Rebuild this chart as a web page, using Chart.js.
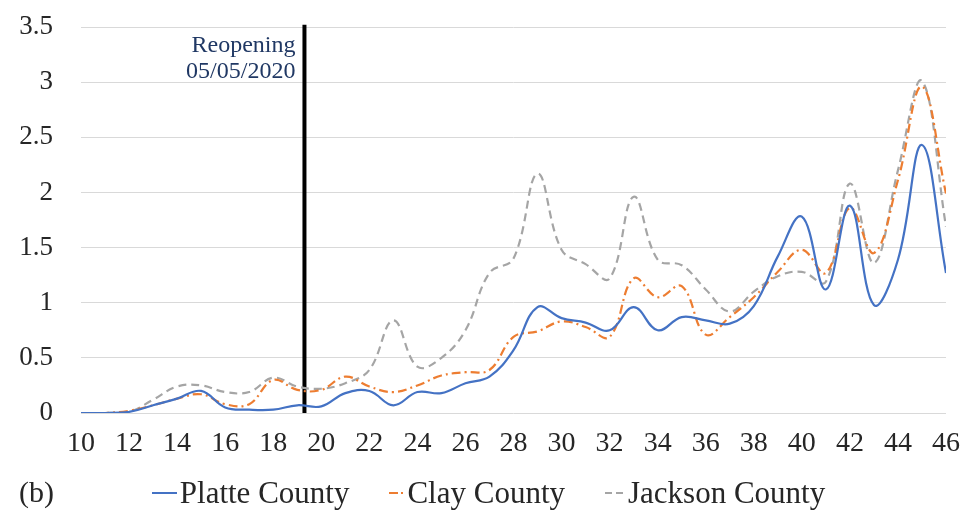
<!DOCTYPE html>
<html>
<head>
<meta charset="utf-8">
<script src="https://cdn.jsdelivr.net/npm/chart.js@4.4.1/dist/chart.umd.min.js"></script>
<style>
    body { margin: 0; background: #fff; }
    #wrap { position: relative; width: 971px; height: 510px; }
    #legend {
        position: absolute; left: 0; top: 475px; width: 971px;
        display: flex; justify-content: center; gap: 40px; padding-left: 6px; box-sizing: border-box;
        font-family: 'Liberation Serif', 'Times New Roman', serif; font-size: 31px; color: #262626;
    }
    .item { display: flex; align-items: center; white-space: nowrap; }
    .item svg { margin-right: 3px; }
    #panel {
        position: absolute; left: 19px; top: 475px;
        font-family: 'Liberation Serif', 'Times New Roman', serif; font-size: 30px; color: #262626;
    }
</style>
</head>
<body>
<div id="wrap">
    <canvas id="grafico" width="971" height="510"></canvas>
    <div id="panel">(b)</div>
    <div id="legend"></div>
</div>
<script>
// semanas epidemiologicas
const semanas = [10, 11, 12, 13, 14, 15, 16, 17, 18, 19, 20, 21, 22, 23, 24, 25, 26, 27, 28,
    29, 30, 31, 32, 33, 34, 35, 36, 37, 38, 39, 40, 41, 42, 43, 44, 45, 46];

const platte = [0, 0, 0.01, 0.07, 0.13, 0.2, 0.05, 0.03, 0.03, 0.07, 0.06, 0.18, 0.2, 0.07, 0.19,
    0.18, 0.27, 0.33, 0.57, 0.96, 0.86, 0.82, 0.75, 0.96, 0.75, 0.87, 0.84, 0.81, 0.97, 1.42,
    1.78, 1.12, 1.88, 0.98, 1.39, 2.43, 1.27];

const clay = [0, 0, 0.02, 0.07, 0.13, 0.17, 0.08, 0.08, 0.3, 0.21, 0.21, 0.33, 0.24, 0.19, 0.25,
    0.34, 0.37, 0.39, 0.69, 0.74, 0.83, 0.78, 0.69, 1.22, 1.05, 1.15, 0.71, 0.87, 1.05, 1.28,
    1.48, 1.27, 1.86, 1.45, 2.11, 2.96, 1.99];

const jackson = [0, 0, 0.01, 0.12, 0.24, 0.25, 0.19, 0.19, 0.32, 0.24, 0.22, 0.27, 0.39, 0.84, 0.42,
    0.5, 0.75, 1.27, 1.4, 2.17, 1.48, 1.35, 1.22, 1.96, 1.39, 1.34, 1.12, 0.92, 1.1, 1.24,
    1.28, 1.19, 2.08, 1.36, 2.2, 3.01, 1.69];

const nombres = ['Platte County', 'Clay County', 'Jackson County'];
const colores = ['#4472C4', '#ED7D31', '#A5A5A5'];
const guiones = [[], [9, 4, 2, 4], [8, 5]];

const semanaReapertura = 19.3;
const textoReapertura = ['Reopening', '05/05/2020'];

const fuente = "'Liberation Serif', 'Times New Roman', serif";

const series = [platte, clay, jackson].map((valores, i) => ({
    label: nombres[i],
    data: valores.map((v, j) => ({ x: semanas[j], y: v })),
    borderColor: colores[i],
    borderDash: guiones[i],
    borderWidth: 2.2,
    pointRadius: 0,
    tension: 0.4,
    fill: false
}));

series.push({
    label: 'reopen',
    data: [{ x: semanaReapertura, y: 0 }, { x: semanaReapertura, y: 3.52 }],
    borderColor: '#000000',
    borderWidth: 4,
    pointRadius: 0,
    tension: 0,
    clip: false
});

const anotacion = {
    id: 'anotacion',
    afterDatasetsDraw(chart) {
        const { ctx, scales } = chart;
        const x = scales.x.getPixelForValue(semanaReapertura) - 9;
        const top = scales.y.getPixelForValue(3.5);
        ctx.save();
        ctx.font = `24px ${fuente}`;
        ctx.fillStyle = '#203864';
        ctx.textAlign = 'right';
        ctx.textBaseline = 'alphabetic';
        ctx.fillText(textoReapertura[0], x, top + 25);
        ctx.fillText(textoReapertura[1], x, top + 51);
        ctx.restore();
    }
};

new Chart(document.getElementById('grafico').getContext('2d'), {
    type: 'line',
    data: { datasets: series },
    options: {
        responsive: false,
        animation: false,
        layout: { padding: { top: 27, right: 25, left: 0, bottom: 0 } },
        plugins: {
            legend: { display: false },
            tooltip: { enabled: false }
        },
        scales: {
            x: {
                type: 'linear',
                min: 10,
                max: 46,
                afterFit: scale => {
                    scale.height = 97;
                    scale.paddingLeft = 0;
                    scale.paddingRight = 0;
                },
                grid: { display: false, drawTicks: false },
                border: { display: false },
                ticks: {
                    stepSize: 2,
                    padding: 14,
                    color: '#262626',
                    font: { family: fuente, size: 28 }
                }
            },
            y: {
                min: 0,
                max: 3.5,
                afterFit: scale => {
                    scale.width = 81;
                    scale.paddingTop = 0;
                    scale.paddingBottom = 0;
                },
                grid: { color: '#d9d9d9', lineWidth: 1, drawTicks: false },
                border: { display: false },
                ticks: {
                    stepSize: 0.5,
                    padding: 28,
                    color: '#262626',
                    font: { family: fuente, size: 27 },
                    callback: v => String(v)
                }
            }
        }
    },
    plugins: [anotacion]
});

// leyenda en html
const leyenda = document.getElementById('legend');
nombres.forEach((nombre, i) => {
    const item = document.createElement('div');
    item.className = 'item';
    const ancho = i === 0 ? 25 : (i === 1 ? 15 : 20);
    item.innerHTML = `<svg width="${ancho}" height="6"><line x1="0" y1="3" x2="${ancho}" y2="3" stroke="${colores[i]}" stroke-width="2" stroke-dasharray="${guiones[i].length ? (i === 1 ? '9 3 2 3' : '7 4') : 'none'}"/></svg><span>${nombre}</span>`;
    leyenda.appendChild(item);
});
</script>
</body>
</html>
